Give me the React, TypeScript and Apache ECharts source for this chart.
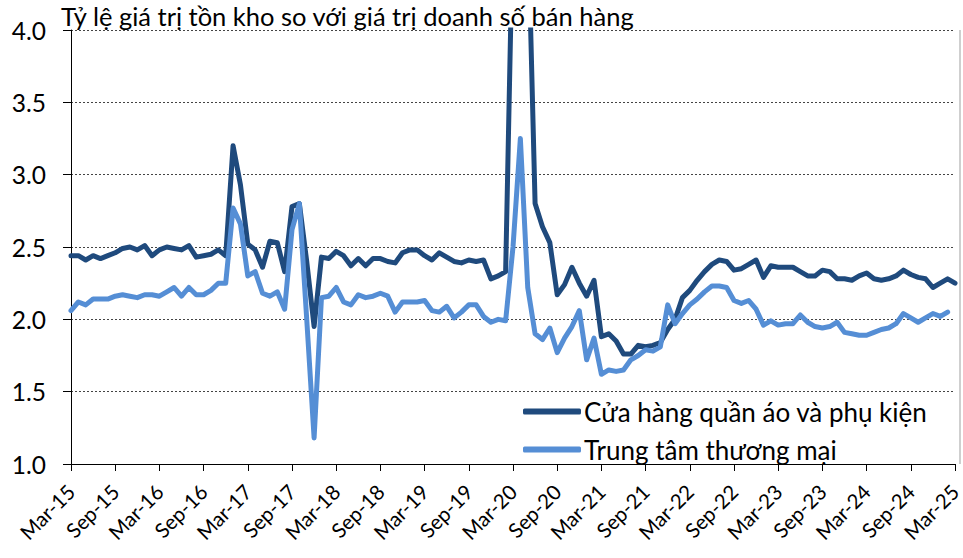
import React, { useEffect, useRef } from "react";
import * as echarts from "echarts";

const TITLE = "Tỷ lệ giá trị tồn kho so với giá trị doanh số bán hàng";
const SERIES_NAMES = ["Cửa hàng quần áo và phụ kiện", "Trung tâm thương mại"];
const MONTHS = ["Jan", "Feb", "Mar", "Apr", "May", "Jun", "Jul", "Aug", "Sep", "Oct", "Nov", "Dec"];

// Monthly categories Mar-15 .. Mar-25
const categories: string[] = [];
for (let k = 0; k <= 120; k++) {
  const m = (2 + k) % 12;
  const y = 15 + Math.floor((2 + k) / 12);
  categories.push(`${MONTHS[m]}-${y}`);
}

const apparelStores: number[] = [
  2.44, 2.44, 2.41, 2.44, 2.42, 2.44, 2.46, 2.49, 2.50, 2.48, 2.51, 2.44,
  2.48, 2.50, 2.49, 2.48, 2.51, 2.43, 2.44, 2.45, 2.48, 2.44, 3.20, 2.93,
  2.52, 2.48, 2.36, 2.54, 2.53, 2.33, 2.78, 2.80, 2.40, 1.95, 2.43, 2.42,
  2.47, 2.44, 2.37, 2.42, 2.37, 2.42, 2.42, 2.40, 2.39, 2.46, 2.48, 2.48,
  2.44, 2.41, 2.46, 2.43, 2.40, 2.39, 2.41, 2.40, 2.41, 2.28, 2.30, 2.33,
  4.80, 9.50, 4.80, 2.80, 2.64, 2.53, 2.17, 2.24, 2.36, 2.25, 2.16, 2.27,
  1.88, 1.90, 1.85, 1.76, 1.76, 1.82, 1.81, 1.82, 1.84, 1.93, 2.00, 2.15,
  2.20, 2.27, 2.33, 2.38, 2.41, 2.40, 2.34, 2.35, 2.38, 2.41, 2.29, 2.37,
  2.36, 2.36, 2.36, 2.33, 2.30, 2.30, 2.34, 2.33, 2.28, 2.28, 2.27, 2.30,
  2.32, 2.28, 2.27, 2.28, 2.30, 2.34, 2.31, 2.29, 2.28, 2.22, 2.25, 2.28,
  2.25,
];

const departmentStores: (number | null)[] = [
  2.06, 2.12, 2.10, 2.14, 2.14, 2.14, 2.16, 2.17, 2.16, 2.15, 2.17, 2.17,
  2.16, 2.19, 2.22, 2.16, 2.22, 2.17, 2.17, 2.20, 2.25, 2.25, 2.77, 2.66,
  2.30, 2.33, 2.18, 2.16, 2.19, 2.07, 2.62, 2.80, 2.00, 1.18, 2.15, 2.16,
  2.22, 2.12, 2.10, 2.17, 2.15, 2.16, 2.18, 2.16, 2.05, 2.12, 2.12, 2.12,
  2.13, 2.06, 2.05, 2.09, 2.01, 2.05, 2.10, 2.10, 2.02, 1.98, 2.00, 1.99,
  2.50, 3.25, 2.22, 1.90, 1.86, 1.94, 1.77, 1.87, 1.95, 2.06, 1.72, 1.87,
  1.62, 1.65, 1.64, 1.65, 1.72, 1.75, 1.79, 1.78, 1.81, 2.10, 1.97, 2.04,
  2.10, 2.14, 2.19, 2.23, 2.23, 2.22, 2.13, 2.11, 2.13, 2.07, 1.96, 1.99,
  1.96, 1.97, 1.97, 2.03, 1.98, 1.95, 1.94, 1.95, 1.98, 1.91, 1.90, 1.89,
  1.89, 1.91, 1.93, 1.94, 1.97, 2.04, 2.01, 1.98, 2.01, 2.04, 2.02, 2.05,
  null,
];

const DARK = "#1F4A7D";
const LIGHT = "#558ED5";
const FONT = "Lato, 'Noto Sans', sans-serif";

export default function App() {
  const ref = useRef<HTMLDivElement>(null);
  useEffect(() => {
    if (!ref.current) return;
    const chart = echarts.init(ref.current, undefined, { renderer: "svg" });
    chart.setOption({
      animation: false,
      backgroundColor: "#fff",
      textStyle: { fontFamily: FONT },
      title: {
        text: TITLE,
        left: 61,
        top: 3,
        padding: 0,
        textStyle: { fontFamily: FONT, fontSize: 25.5, fontWeight: "normal", color: "#000" },
      },
      grid: {
        left: 71,
        right: 8,
        top: 30,
        bottom: 94,
        containLabel: false,
        outerBoundsMode: "none",
      },
      legend: {
        orient: "vertical",
        left: 523,
        top: 398,
        padding: 0,
        itemGap: 11,
        itemWidth: 58,
        itemHeight: 6,
        icon: "roundRect",
        data: SERIES_NAMES,
        textStyle: { fontFamily: FONT, fontSize: 26, color: "#000", lineHeight: 27, padding: [0, 0, 0, -2] },
      },
      xAxis: {
        type: "category",
        data: categories,
        boundaryGap: false,
        axisLine: { lineStyle: { color: "#000", width: 1 } },
        axisTick: { show: true, interval: 5, length: 7, lineStyle: { color: "#000" } },
        axisLabel: {
          interval: 5,
          rotate: 45,
          fontFamily: FONT,
          fontSize: 20.5,
          lineHeight: 14,
          color: "#000",
          margin: 24,
          verticalAlign: "middle",
          hideOverlap: false,
        },
        splitLine: { show: false },
      },
      yAxis: {
        type: "value",
        min: 1,
        max: 4,
        interval: 0.5,
        axisLine: { show: true, lineStyle: { color: "#000", width: 1 } },
        axisTick: { show: true, length: 8, lineStyle: { color: "#000" } },
        axisLabel: {
          fontFamily: FONT,
          fontSize: 24.5,
          color: "#000",
          margin: 25,
          formatter: (v: number) => v.toFixed(1),
        },
        splitLine: { show: true, lineStyle: { color: "#444", type: [2, 2], width: 1 } },
      },
      graphic: [
        {
          type: "line",
          shape: { x1: 960, y1: 30, x2: 960, y2: 464 },
          style: { stroke: "#BFBFBF", lineWidth: 1.5 },
        },
      ],
      series: [
        {
          name: SERIES_NAMES[0],
          type: "line",
          data: apparelStores,
          symbol: "none",
          clip: true,
          lineStyle: { color: DARK, width: 5, cap: "round", join: "round" },
          itemStyle: { color: DARK },
          z: 2,
        },
        {
          name: SERIES_NAMES[1],
          type: "line",
          data: departmentStores,
          symbol: "none",
          clip: true,
          lineStyle: { color: LIGHT, width: 5, cap: "round", join: "round" },
          itemStyle: { color: LIGHT },
          z: 3,
        },
      ],
    });
    return () => chart.dispose();
  }, []);
  return (
    <div
      ref={ref}
      style={{ position: "fixed", left: 0, top: 0, width: 963, height: 558, background: "#fff" }}
    />
  );
}
